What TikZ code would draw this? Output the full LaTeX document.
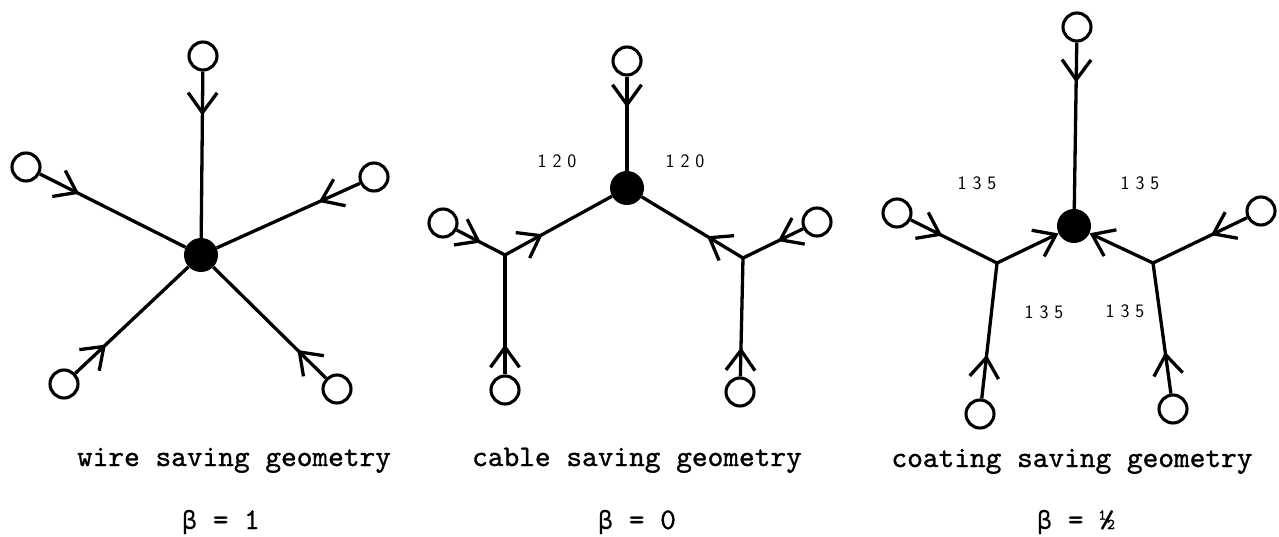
\documentclass[tikz,border=0pt]{standalone}
\usepackage{fontspec}
\usetikzlibrary{arrows.meta,decorations.markings}
\newfontfamily\gkfont{DejaVu Sans Mono}
\newfontfamily\twfont{lmmono10-regular.otf}[FakeBold=1.0]
\tikzset{
  wire/.style={line width=3.3pt},
  term/.style={circle, draw, line width=3.1pt, minimum size=28pt, inner sep=0pt},
  hub/.style={circle, fill, minimum size=34pt, inner sep=0pt},
  barb/.style={postaction={decorate}, decoration={markings,
      mark=at position #1 with {\arrow{Straight Barb[length=20pt,width=29pt]}}}},
  endbarb/.style={-{Straight Barb[length=20pt,width=29pt]}},
  lbl/.style={font=\fontsize{19}{19}\selectfont\sffamily, inner sep=0pt},
  wordrow/.style={font=\fontsize{29.9}{30}\selectfont\twfont, inner sep=0pt, anchor=base},
}
\begin{document}
\begin{tikzpicture}[x=1pt,y=-1pt]
\useasboundingbox (0,0) rectangle (1279,537);

% ---------- panel 1: wire saving ----------
\node[hub] (h1) at (201,255) {};
\node[term] (a1) at (203,56) {};
\node[term] (b1) at (26,167) {};
\node[term] (c1) at (374,177) {};
\node[term] (d1) at (64,384) {};
\node[term] (e1) at (337,389) {};
\draw[wire, barb=44pt] (a1) -- (h1);
\draw[wire, barb=44pt] (b1) -- (h1);
\draw[wire, barb=45pt] (c1) -- (h1);
\draw[wire, barb=42pt] (d1) -- (h1);
\draw[wire, barb=40pt] (e1) -- (h1);

% ---------- panel 2: cable saving ----------
\node[hub] (h2) at (627,188) {};
\node[term] (a2) at (627,61) {};
\coordinate (j1) at (505,255);
\coordinate (j2) at (743,258);
\node[term] (b2) at (443,223) {};
\node[term] (c2) at (505,390) {};
\node[term] (d2) at (817,222) {};
\node[term] (e2) at (740,392) {};
\draw[wire, barb=31pt] (a2) -- (h2);
\draw[wire, barb=27pt] (b2) -- (j1);
\draw[wire, barb=30pt] (c2) -- (j1);
\draw[wire, barb=43pt] (j1) -- (h2);
\draw[wire, barb=28pt] (d2) -- (j2);
\draw[wire, barb=29pt] (e2) -- (j2);
\draw[wire, barb=42pt] (j2) -- (h2);
\node[lbl] (n1) at (557,161) {1 2 0};
\node[lbl] (n2) at (685,161) {1 2 0};

% ---------- panel 3: coating saving ----------
\node[hub] (h3) at (1074,226) {};
\node[term] (a3) at (1077,27) {};
\coordinate (j3) at (997,263);
\coordinate (j4) at (1153,263);
\node[term] (b3) at (897,213) {};
\node[term] (c3) at (980,414) {};
\node[term] (d3) at (1261,211) {};
\node[term] (e3) at (1173,409) {};
\draw[wire, barb=40pt] (a3) -- (h3);
\draw[wire, barb=35pt] (b3) -- (j3);
\draw[wire, barb=44pt] (c3) -- (j3);
\draw[wire, endbarb] (j3) -- (h3);
\draw[wire, barb=40pt] (d3) -- (j4);
\draw[wire, barb=42pt] (e3) -- (j4);
\draw[wire, endbarb] (j4) -- (h3);
\node[lbl] (m1) at (977,183) {1 3 5};
\node[lbl] (m2) at (1140,183) {1 3 5};
\node[lbl] (m3) at (1044,312) {1 3 5};
\node[lbl] (m4) at (1125,311) {1 3 5};

% ---------- captions ----------
\node[wordrow] (t1) at (234,466) {wire saving geometry};
\node[wordrow] (t2) at (637,466) {cable saving geometry};
\node[wordrow] (t3) at (1072,467) {coating saving geometry};
\node[wordrow] (s1) at (221,529) {{\gkfont\fontsize{25}{25}\selectfont β} = 1};
\node[wordrow] (s2) at (637,529) {{\gkfont\fontsize{25}{25}\selectfont β} = 0};
\node[wordrow] (s3) at (1076,529) {{\gkfont\fontsize{25}{25}\selectfont β} = ½};
\end{tikzpicture}
\end{document}
